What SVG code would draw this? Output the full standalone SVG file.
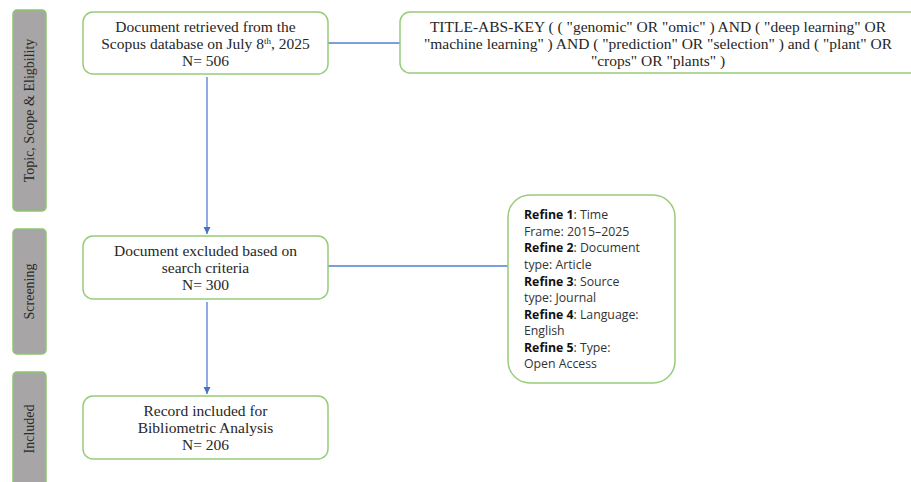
<svg xmlns="http://www.w3.org/2000/svg" width="911" height="482" viewBox="0 0 911 482">
<style>
.side{fill:#a7a5a5;stroke:#8cc66e;stroke-width:1.5}
.box{fill:#fff;stroke:#97cc7a;stroke-width:1.5}
.t{font-family:"Liberation Serif","Times New Roman",serif;font-size:15.5px;fill:#262626;text-anchor:middle}
.st{font-family:"Liberation Serif","Times New Roman",serif;font-size:14px;fill:#2a2a2a;text-anchor:middle}
.r{font-family:"Open Sans","Noto Sans",sans-serif;font-size:12.3px;fill:#333}
.r tspan.b{font-weight:bold;fill:#111}
.c{stroke:#4f7fd0;stroke-width:1.3;fill:none}
</style>
<defs>
<marker id="ah" markerWidth="8" markerHeight="8" refX="7" refY="4" orient="auto" markerUnits="userSpaceOnUse">
<path d="M0,0.5 L7,4 L0,7.5 Z" fill="#4472c4"/>
</marker>
</defs>
<g id="phase-topic">
<rect class="side" x="13" y="10" width="33" height="201" rx="4"/>
<text class="st" transform="translate(34,110.5) rotate(-90)">Topic, Scope &amp; Eligbility</text>
</g>
<g id="phase-screening">
<rect class="side" x="13" y="229" width="33" height="125" rx="4"/>
<text class="st" transform="translate(34,291.5) rotate(-90)">Screening</text>
</g>
<g id="phase-included">
<rect class="side" x="13" y="372" width="33" height="120" rx="4"/>
<text class="st" transform="translate(34,429) rotate(-90)">Included</text>
</g>
<g id="connectors">
<line class="c" x1="328" y1="43" x2="400" y2="43"/>
<line class="c" x1="207" y1="77" x2="207" y2="234" marker-end="url(#ah)"/>
<line class="c" x1="328" y1="266" x2="508" y2="266"/>
<line class="c" x1="207" y1="302" x2="207" y2="394" marker-end="url(#ah)"/>
</g>
<g id="node-retrieved">
<rect class="box" x="83" y="12" width="245" height="62" rx="10"/>
<text class="t" x="205.5" y="32">Document retrieved from the</text>
<text class="t" x="205.5" y="49">Scopus database on July 8<tspan font-size="9" dy="-5">th</tspan><tspan dy="5">, 2025</tspan></text>
<text class="t" x="205.5" y="66">N= 506</text>
</g>
<g id="node-query">
<rect class="box" x="400" y="12" width="520" height="61" rx="10"/>
<text class="t" x="658" y="32">TITLE-ABS-KEY ( ( "genomic" OR "omic" ) AND ( "deep learning" OR</text>
<text class="t" x="658" y="49">"machine learning" ) AND ( "prediction" OR "selection" ) and ( "plant" OR</text>
<text class="t" x="658" y="66">"crops" OR "plants" )</text>
</g>
<g id="node-excluded">
<rect class="box" x="83" y="236" width="245" height="63" rx="10"/>
<text class="t" x="205.5" y="256">Document excluded based on</text>
<text class="t" x="205.5" y="273">search criteria</text>
<text class="t" x="205.5" y="290">N= 300</text>
</g>
<g id="node-refine">
<rect class="box" x="508" y="195" width="167" height="188" rx="22"/>
<text class="r" x="524" y="219"><tspan class="b">Refine 1</tspan>: Time</text>
<text class="r" x="524" y="236">Frame: 2015–2025</text>
<text class="r" x="524" y="252"><tspan class="b">Refine 2</tspan>: Document</text>
<text class="r" x="524" y="269">type: Article</text>
<text class="r" x="524" y="286"><tspan class="b">Refine 3</tspan>: Source</text>
<text class="r" x="524" y="302">type: Journal</text>
<text class="r" x="524" y="319"><tspan class="b">Refine 4</tspan>: Language:</text>
<text class="r" x="524" y="335">English</text>
<text class="r" x="524" y="352"><tspan class="b">Refine 5</tspan>: Type:</text>
<text class="r" x="524" y="368">Open Access</text>
</g>
<g id="node-included">
<rect class="box" x="83" y="396" width="245" height="63" rx="10"/>
<text class="t" x="205.5" y="416">Record included for</text>
<text class="t" x="205.5" y="433">Bibliometric Analysis</text>
<text class="t" x="205.5" y="450">N= 206</text>
</g>
</svg>
